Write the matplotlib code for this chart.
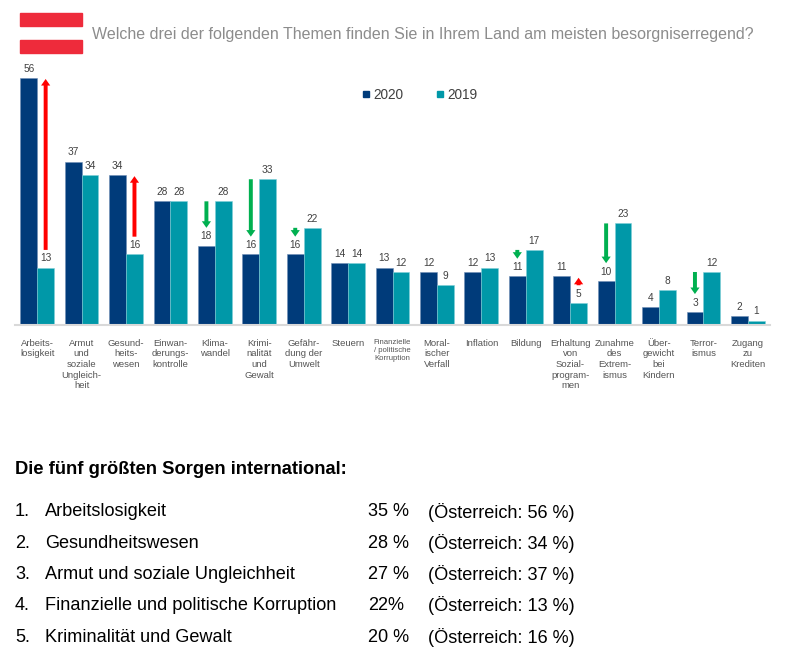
import matplotlib
matplotlib.use("Agg")
import matplotlib.pyplot as plt
from matplotlib.lines import Line2D
from matplotlib.patches import Rectangle, FancyArrowPatch
import numpy as np

plt.rcParams['font.family'] = ['Liberation Sans', 'DejaVu Sans']

categories = ["Arbeits-\nlosigkeit", "Armut\nund\nsoziale\nUngleich-\nheit", "Gesund-\nheits-\nwesen",
              "Einwan-\nderungs-\nkontrolle", "Klima-\nwandel", "Krimi-\nnalität\nund\nGewalt",
              "Gefähr-\ndung der\nUmwelt", "Steuern", "Finanzielle\n/ politische\nKorruption",
              "Moral-\nischer\nVerfall", "Inflation", "Bildung", "Erhaltung\nvon\nSozial-\nprogram-\nmen",
              "Zunahme\ndes\nExtrem-\nismus", "Über-\ngewicht\nbei\nKindern", "Terror-\nismus",
              "Zugang\nzu\nKrediten"]
values_2020 = [56, 37, 34, 28, 18, 16, 16, 14, 13, 12, 12, 11, 11, 10, 4, 3, 2]
values_2019 = [13, 34, 16, 28, 28, 33, 22, 14, 12, 9, 13, 17, 5, 23, 8, 12, 1]
arrow_idx = [0, 2, 4, 5, 6, 11, 12, 13, 15]

title = "Welche drei der folgenden Themen finden Sie in Ihrem Land am meisten besorgniserregend?"
heading = "Die fünf größten Sorgen international:"
top5 = ["Arbeitslosigkeit", "Gesundheitswesen", "Armut und soziale Ungleichheit",
        "Finanzielle und politische Korruption", "Kriminalität und Gewalt"]
top5_intl = ["35 %", "28 %", "27 %", "22%", "20 %"]
top5_at = ["56 %", "34 %", "37 %", "13 %", "16 %"]

C20 = "#003b7a"
C19 = "#0098a8"
W, H = 789, 660

fig = plt.figure(figsize=(W / 100, H / 100), dpi=100)
ax = fig.add_axes([15 / W, 1 - 325 / H, 755 / W, 265 / H])

x = np.arange(len(categories))
bw = 0.38
b1 = ax.bar(x - bw / 2, values_2020, bw, color=C20, edgecolor="#6f8fb5", linewidth=0.4, label="2020")
b2 = ax.bar(x + bw / 2, values_2019, bw, color=C19, edgecolor="#7fd0d8", linewidth=0.4, label="2019")
ax.bar_label(b1, padding=3, fontsize=7.3, color="#404040")
ax.bar_label(b2, padding=3, fontsize=7.3, color="#404040")

ax.set_xlim(-0.5, len(categories) - 0.5)
ax.set_ylim(0, 60)
ax.set_yticks([])
for s in ["top", "right", "left"]:
    ax.spines[s].set_visible(False)
ax.spines["bottom"].set_color("#d9d9d9")
ax.spines["bottom"].set_linewidth(1.5)
ax.set_xticks(x)
ax.set_xticklabels(categories, fontsize=6.8, color="#555555", linespacing=1.22, va="top")
ax.tick_params(axis="x", length=0, pad=10)
for t in ax.get_xticklabels():
    if t.get_text().startswith("Finanzielle"):
        t.set_fontsize(5.6)

# change arrows
style = "simple,head_length=0.75,head_width=1.05,tail_width=0.45"
for i in arrow_idx:
    a, b = values_2020[i], values_2019[i]
    if a > b:
        xi = i + bw / 2
        p = FancyArrowPatch((xi, b + 4), (xi, a - 0.3), arrowstyle=style, mutation_scale=6.3,
                            color="#ff0000", lw=0, shrinkA=0, shrinkB=0)
    else:
        xi = i - bw / 2
        p = FancyArrowPatch((xi, b), (xi, a + 4), arrowstyle=style, mutation_scale=6.3,
                            color="#00b050", lw=0, shrinkA=0, shrinkB=0)
    ax.add_patch(p)

handles = [Line2D([], [], marker="s", color=C20, ls="", markersize=5),
           Line2D([], [], marker="s", color=C19, ls="", markersize=5)]
fig.legend(handles, ["2020", "2019"], loc="center left", bbox_to_anchor=(347 / W, 1 - 95 / H),
           ncol=2, frameon=False, fontsize=9.8, handletextpad=0.05, columnspacing=2.2,
           handlelength=1.0, labelcolor="#404040")

# flag and title
fig.patches.append(Rectangle((20 / W, 1 - 26 / H), 62 / W, 13 / H, transform=fig.transFigure,
                             color="#ee2b3b", zorder=5))
fig.patches.append(Rectangle((20 / W, 1 - 53 / H), 62 / W, 13 / H, transform=fig.transFigure,
                             color="#ee2b3b", zorder=5))
fig.text(92 / W, 1 - 34 / H, title, fontsize=11.5, color="#8c8c8c", va="center", ha="left")

# bottom text
fig.text(15 / W, 1 - 470 / H, heading, fontsize=13.2, fontweight="bold", color="black",
         va="center", ha="left")
for k in range(len(top5)):
    yy = 1 - (512 + k * 31.3) / H
    fig.text(15 / W, yy, f"{k + 1}.", fontsize=13.1, va="center", ha="left")
    fig.text(45 / W, yy, top5[k], fontsize=13.1, va="center", ha="left")
    fig.text(368 / W, yy, top5_intl[k], fontsize=13.1, va="center", ha="left")
    fig.text(428 / W, yy, f"(Österreich: {top5_at[k]})", fontsize=13.1, va="center", ha="left")

fig.savefig("out.png", dpi=100, facecolor="white")
